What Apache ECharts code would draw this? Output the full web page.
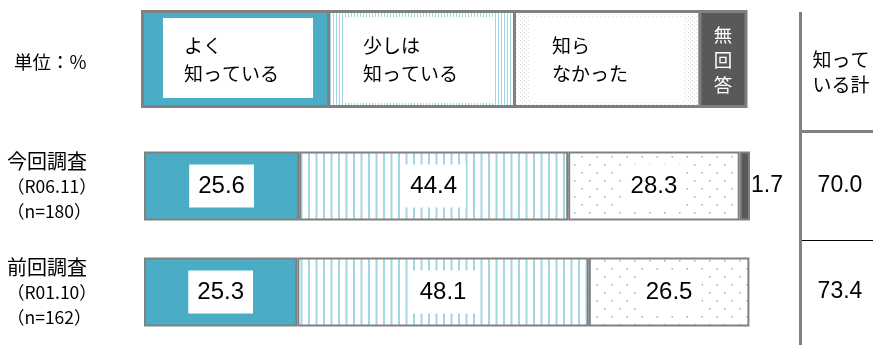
<!DOCTYPE html>
<html><head><meta charset="utf-8">
<script src="https://cdn.jsdelivr.net/npm/echarts@6/dist/echarts.min.js"></script>
<style>html,body{margin:0;padding:0;background:#fff}#c{width:873px;height:345px}</style>
</head><body><div id="c"></div>
<script>
// ---- data ----
const surveyNames = ['今回調査', '前回調査'];
const surveyDates = ['（R06.11）', '（R01.10）'];
const surveyN = ['（n=180）', '（n=162）'];
const seriesNames = ['よく知っている', '少しは知っている', '知らなかった', '無回答'];
const wellKnown = [25.6, 25.3];
const somewhatKnown = [44.4, 48.1];
const notKnown = [28.3, 26.5];
const noAnswer = [1.7, null];
const knowTotal = ['70.0', '73.4'];
const legendLabels = ['よく\n知っている', '少しは\n知っている', '知ら\nなかった', '無\n回\n答'];
const totalHeader = '知って\nいる計';
const unitLabel = '単位：%';

// ---- patterns ----
function stripePattern(period, lines, color) {
  const c = document.createElement('canvas');
  c.width = period; c.height = 4;
  const g = c.getContext('2d');
  g.fillStyle = '#fff'; g.fillRect(0, 0, period, 4);
  g.fillStyle = color;
  lines.forEach(l => g.fillRect(l[0], 0, l[1], 4));
  return { image: c, repeat: 'repeat' };
}
function dotPattern(w, h, dots, color, size) {
  const c = document.createElement('canvas');
  c.width = w; c.height = h;
  const g = c.getContext('2d');
  g.fillStyle = '#fff'; g.fillRect(0, 0, w, h);
  g.fillStyle = color;
  dots.forEach(d => g.fillRect(d[0], d[1], size, size));
  return { image: c, repeat: 'repeat' };
}
const blue = '#4bacc6';
const dark = '#595959';
const border = '#808080';
const stripeBar = stripePattern(15, [[0.5, 2], [8, 2]], '#a3d6e4');
const dotBar = dotPattern(15, 16, [[4, 4], [11.5, 12]], '#aaaaaa', 1.5);
const stripeHead = stripePattern(3, [[0, 1]], '#a3d6e4');
const dotHead = dotPattern(4, 4, [[0, 0], [2, 2]], '#dcdcdc', 1);

const cats = surveyNames.map((n, i) => n + '\n' + surveyDates[i] + '\n' + surveyN[i]);

const numFont = '"Liberation Sans", Arial, sans-serif';
const jpFont = '"Noto Sans CJK JP", sans-serif';

function inLabel() {
  return {
    show: true, position: 'inside', color: '#000', fontSize: 24, fontFamily: numFont,
    backgroundColor: '#fff', padding: [10, 9, 9, 9],
    formatter: p => (p.value == null ? '' : Number(p.value).toFixed(1))
  };
}
const itemBorder = { borderColor: border, borderWidth: 2 };

const chart = echarts.init(document.getElementById('c'), null, { renderer: 'canvas' });
chart.setOption({
  animation: false,
  backgroundColor: '#fff',
  grid: { left: 144, right: 123, top: 133, height: 218, containLabel: false },
  xAxis: { type: 'value', min: 0, max: 100, show: false },
  yAxis: [{
    type: 'category', inverse: true, data: cats,
    axisLine: { show: false }, axisTick: { show: false },
    axisLabel: {
      align: 'left', margin: 137, fontFamily: jpFont, color: '#000',
      formatter: v => {
        const p = v.split('\n');
        return '{a|' + p[0] + '}\n{b|' + p[1] + '}\n{b|' + p[2] + '}';
      },
      rich: {
        a: { fontSize: 20, lineHeight: 25, fontFamily: jpFont, color: '#000', align: 'left' },
        b: { fontSize: 17.5, lineHeight: 25, fontFamily: jpFont, color: '#000', align: 'left' }
      }
    }
  }, {
    type: 'category', inverse: true, position: 'right', data: knowTotal,
    axisLine: { show: false }, axisTick: { show: false },
    axisLabel: { align: 'center', margin: 90, fontSize: 23, fontFamily: numFont, color: '#000' }
  }],
  series: [
    { name: seriesNames[0], type: 'bar', stack: 's', barWidth: 69, data: wellKnown,
      itemStyle: Object.assign({ color: blue }, itemBorder), label: inLabel() },
    { name: seriesNames[1], type: 'bar', stack: 's', barWidth: 69, data: somewhatKnown,
      itemStyle: Object.assign({ color: stripeBar }, itemBorder), label: inLabel() },
    { name: seriesNames[2], type: 'bar', stack: 's', barWidth: 69, data: notKnown,
      itemStyle: Object.assign({ color: dotBar }, itemBorder), label: inLabel() },
    { name: seriesNames[3], type: 'bar', stack: 's', barWidth: 69, data: noAnswer,
      itemStyle: Object.assign({ color: dark }, itemBorder),
      label: { show: true, position: 'right', distance: 1, color: '#000', fontSize: 23, fontFamily: numFont,
        formatter: p => (p.value == null ? '' : Number(p.value).toFixed(1)) } }
  ],
  graphic: [
    // header legend bar
    { type: 'rect', shape: { x: 142.5, y: 11.5, width: 186, height: 95 }, style: { fill: blue, stroke: border, lineWidth: 3 } },
    { type: 'rect', shape: { x: 328.5, y: 11.5, width: 186, height: 95 }, style: { fill: stripeHead, stroke: border, lineWidth: 3 } },
    { type: 'rect', shape: { x: 514.5, y: 11.5, width: 185.5, height: 95 }, style: { fill: dotHead, stroke: border, lineWidth: 3 } },
    { type: 'rect', shape: { x: 700, y: 11.5, width: 46, height: 95 }, style: { fill: dark, stroke: border, lineWidth: 3 } },
    { type: 'rect', shape: { x: 163, y: 18, width: 150, height: 80 }, style: { fill: '#fff' } },
    { type: 'rect', shape: { x: 344, y: 17, width: 150, height: 86 }, style: { fill: '#fff' } },
    { type: 'rect', shape: { x: 530, y: 17, width: 153, height: 84 }, style: { fill: '#fff' } },
    { type: 'text', x: 184, y: 60, style: { text: legendLabels[0], fontSize: 19, lineHeight: 28, fontFamily: jpFont, fill: '#000', verticalAlign: 'middle' } },
    { type: 'text', x: 363, y: 60, style: { text: legendLabels[1], fontSize: 19, lineHeight: 28, fontFamily: jpFont, fill: '#000', verticalAlign: 'middle' } },
    { type: 'text', x: 552, y: 60, style: { text: legendLabels[2], fontSize: 19, lineHeight: 28, fontFamily: jpFont, fill: '#000', verticalAlign: 'middle' } },
    { type: 'text', x: 723, y: 60, style: { text: legendLabels[3], fontSize: 18.5, lineHeight: 25, fontFamily: jpFont, fill: '#fff', align: 'center', verticalAlign: 'middle' } },
    // unit
    { type: 'text', x: 14, y: 62, style: { text: unitLabel, fontSize: 18.5, fontFamily: jpFont, fill: '#000', verticalAlign: 'middle' } },
    // right table
    { type: 'line', shape: { x1: 800.5, y1: 12, x2: 800.5, y2: 345 }, style: { stroke: border, lineWidth: 3 } },
    { type: 'line', shape: { x1: 802, y1: 131.5, x2: 873, y2: 131.5 }, style: { stroke: border, lineWidth: 3 } },
    { type: 'line', shape: { x1: 802, y1: 240.5, x2: 873, y2: 240.5 }, style: { stroke: '#000', lineWidth: 1 } },
    { type: 'text', x: 841, y: 72, style: { text: totalHeader, fontSize: 19, lineHeight: 25, fontFamily: jpFont, fill: '#000', align: 'center', verticalAlign: 'middle' } }
  ]
});
</script></body></html>
